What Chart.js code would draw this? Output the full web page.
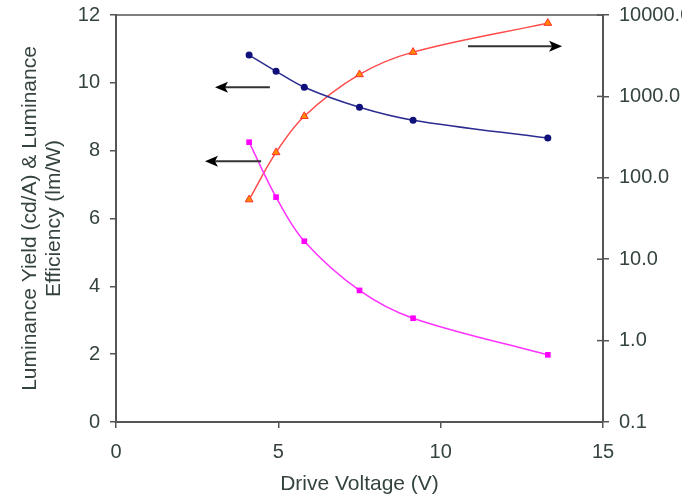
<!DOCTYPE html>
<html>
<head>
<meta charset="utf-8">
<script src="https://cdn.jsdelivr.net/npm/chart.js@4/dist/chart.umd.min.js"></script>
<style>
  html, body { margin: 0; padding: 0; background: #fff; }
  canvas { display: block; }
</style>
</head>
<body>
<canvas id="c" width="682" height="497"></canvas>
<script>
// Drive voltage (V) for all three curves
const voltage = [4.1, 4.93, 5.8, 7.5, 9.15, 13.3];
// Luminance yield (cd/A), left axis
const yieldVals = [10.82, 10.34, 9.87, 9.28, 8.9, 8.37];
// Luminance efficiency (lm/W), left axis
const effVals = [8.25, 6.63, 5.33, 3.88, 3.06, 1.98];
// Luminance (cd/m2), right log axis
const lumVals = [54, 205, 570, 1860, 3500, 7950];
// right axis tick values
const logTicks = [0.1, 1, 10, 100, 1000, 10000];
// arrows, in data units of x / left y axis
const arrows = [
  { from: 4.74, to: 3.05, y: 9.87 },
  { from: 4.47, to: 2.74, y: 7.69 },
  { from: 10.84, to: 13.74, y: 11.08 },
];

const TXT = '#34433d';
const AXIS = '#555';
const FONT = { family: 'Liberation Sans, Arial, sans-serif', size: 20 };
const TITLE_FONT = { family: 'Liberation Sans, Arial, sans-serif', size: 21 };

const pts = (ys) => voltage.map((v, i) => ({ x: v, y: ys[i] }));

// Pfeile + Rahmenlinie oben + Innen-Ticks der rechten Achse
const decor = {
  id: 'decor',
  afterDatasetsDraw(chart) {
    const { ctx, chartArea: a, scales } = chart;
    const sx = scales.x, sy = scales.y, s2 = scales.y2;
    ctx.save();
    ctx.strokeStyle = AXIS;
    ctx.lineWidth = 1.5;
    ctx.beginPath();
    ctx.moveTo(a.left, a.top);
    ctx.lineTo(a.right, a.top);
    ctx.stroke();
    for (const v of logTicks) {
      const py = s2.getPixelForValue(v);
      ctx.beginPath();
      ctx.moveTo(a.right - 6, py);
      ctx.lineTo(a.right, py);
      ctx.stroke();
    }
    for (const ar of arrows) {
      const x1 = sx.getPixelForValue(ar.from);
      const x2 = sx.getPixelForValue(ar.to);
      const py = sy.getPixelForValue(ar.y);
      const dir = x2 > x1 ? 1 : -1;
      ctx.strokeStyle = '#333';
      ctx.lineWidth = 2;
      ctx.beginPath();
      ctx.moveTo(x1, py);
      ctx.lineTo(x2 - dir * 8, py);
      ctx.stroke();
      ctx.fillStyle = '#000';
      ctx.beginPath();
      ctx.moveTo(x2, py);
      ctx.lineTo(x2 - dir * 13, py - 5.5);
      ctx.lineTo(x2 - dir * 10, py);
      ctx.lineTo(x2 - dir * 13, py + 5.5);
      ctx.closePath();
      ctx.fill();
    }
    ctx.restore();
  },
};

// vertikale Achsen: kein Extra-Padding oben/unten fuer Labels
const fitVertical = (w) => (s) => {
  s.width = w;
  s.paddingTop = 0;
  s.paddingBottom = 0;
};

new Chart(document.getElementById('c'), {
  type: 'line',
  data: {
    datasets: [
      {
        label: 'Luminance Yield',
        data: pts(yieldVals),
        yAxisID: 'y',
        borderColor: '#2b2b90',
        backgroundColor: '#10107a',
        borderWidth: 1.5,
        pointStyle: 'circle',
        pointRadius: 3.5,
        pointBorderWidth: 0,
        tension: 0.35,
      },
      {
        label: 'Luminance Efficiency',
        data: pts(effVals),
        yAxisID: 'y',
        borderColor: '#ff33ff',
        backgroundColor: '#ff00ff',
        borderWidth: 1.5,
        pointStyle: 'rect',
        pointRadius: 4,
        pointBorderWidth: 0,
        tension: 0.35,
      },
      {
        label: 'Luminance',
        data: pts(lumVals),
        yAxisID: 'y2',
        borderColor: '#ff4a4a',
        backgroundColor: '#ff8a00',
        borderWidth: 1.5,
        pointStyle: 'triangle',
        pointRadius: 4.5,
        pointBorderColor: '#ff3030',
        pointBorderWidth: 1,
        tension: 0.35,
      },
    ],
  },
  options: {
    responsive: false,
    animation: false,
    layout: { padding: { top: 15, left: 0, right: 0, bottom: 0 } },
    plugins: { legend: { display: false }, tooltip: { enabled: false } },
    scales: {
      x: {
        type: 'linear',
        min: 0,
        max: 15,
        ticks: { stepSize: 5, color: TXT, font: FONT, padding: 12 },
        grid: { drawOnChartArea: false, color: AXIS, tickLength: 6, lineWidth: 1.5 },
        border: { color: AXIS, width: 2 },
        title: { display: true, text: 'Drive Voltage (V)', color: TXT, font: TITLE_FONT, padding: { top: 6, bottom: 0 } },
        afterFit: (s) => { s.height = 75; s.paddingLeft = 0; s.paddingRight = 0; },
      },
      y: {
        type: 'linear',
        position: 'left',
        min: 0,
        max: 12,
        ticks: { stepSize: 2, color: TXT, font: FONT, padding: 10 },
        grid: { drawOnChartArea: false, color: AXIS, tickLength: 6, lineWidth: 1.5 },
        border: { color: AXIS, width: 2 },
        title: {
          display: true,
          text: ['Luminance Yield (cd/A) & Luminance', 'Efficiency (lm/W)'],
          color: TXT,
          font: { ...TITLE_FONT, lineHeight: 1.15 },
          padding: { top: 18, bottom: 0 },
        },
        afterFit: fitVertical(116),
      },
      y2: {
        type: 'logarithmic',
        position: 'right',
        min: 0.1,
        max: 10000,
        afterBuildTicks: (s) => { s.ticks = logTicks.map((v) => ({ value: v })); },
        ticks: {
          color: TXT,
          font: FONT,
          padding: 10,
          callback: (v) => Number(v).toFixed(1),
        },
        grid: { drawOnChartArea: false, color: AXIS, tickLength: 6, lineWidth: 1.5 },
        border: { color: AXIS, width: 2 },
        afterFit: fitVertical(79),
      },
    },
  },
  plugins: [decor],
});
</script>
</body>
</html>
